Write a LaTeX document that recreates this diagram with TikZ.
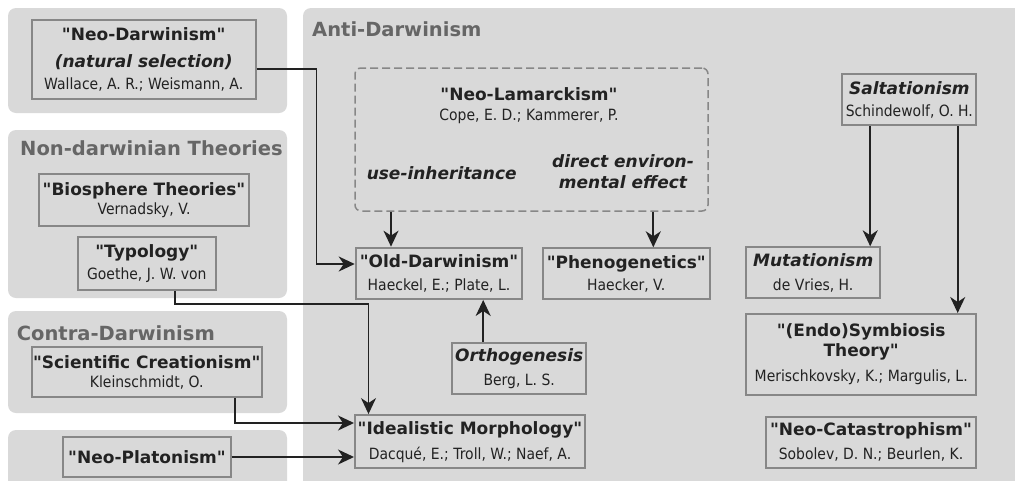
\documentclass[tikz,border=0pt]{standalone}
\usepackage{fontspec}
\setmainfont{DejaVu Sans}[Ligatures=TeXOff]
\newfontfamily\condfont{DejaVu Sans}[FakeStretch=0.9, Ligatures=TeXOff]
\usetikzlibrary{arrows.meta,calc}
\definecolor{panelgray}{HTML}{D9D9D9}
\definecolor{boxline}{HTML}{878787}
\definecolor{ink}{HTML}{222222}
\definecolor{titlegray}{HTML}{666666}
\newcommand{\hd}[1]{{\normalfont\fontsize{17}{20}\selectfont\bfseries #1}}
\newcommand{\hi}[1]{{\normalfont\fontsize{17}{20}\selectfont\bfseries\itshape #1}}
\begin{document}
\begin{tikzpicture}[x=1pt,y=-1pt,
  panel/.style={fill=panelgray, rounded corners=8pt},
  grouptitle/.style={font=\fontsize{19.5}{22}\selectfont\bfseries, text=titlegray, inner sep=0pt, anchor=west},
  tbox/.style={draw=boxline, line width=2pt, fill=panelgray, inner sep=0pt, align=center, text=ink, font=\condfont\fontsize{15.5}{22}\selectfont},
  freetext/.style={inner sep=0pt, align=center, text=ink, font=\condfont\fontsize{15.5}{22}\selectfont},
  dashbox/.style={draw=boxline, line width=1.5pt, dash pattern=on 8pt off 4pt, rounded corners=6pt, inner sep=0pt},
  conn/.style={draw=ink, line width=1.8pt, -{Stealth[length=16pt,width=15pt,inset=5pt]}},
]
\useasboundingbox (0,0) rectangle (1015,480);
\clip (0,0) rectangle (1015,480);
% panels
\fill[panel] (8,8) rectangle (287,113);
\fill[panel] (8,130) rectangle (287,298);
\fill[panel] (8,311) rectangle (287,413);
\fill[panel] (8,430) rectangle (287,500);
\fill[panel] (303,8) rectangle (1040,500);
% titles
\node[grouptitle] (tad) at (312,29.7) {Anti-Darwinism};
\node[grouptitle] (tnd) at (20,148) {Non-darwinian Theories};
\node[grouptitle] (tcd) at (16.7,333.3) {Contra-Darwinism};
% left boxes
\node[tbox, minimum width=224pt, minimum height=79pt] (nd) at (143.7,59.7)
  {\hd{"Neo-Darwinism"}\\[5pt]\hi{(natural selection)}\\Wallace, A. R.; Weismann, A.};
\node[tbox, minimum width=209.4pt, minimum height=52pt] (bt) at (144,200)
  {\hd{"Biosphere Theories"}\\[-3pt]Vernadsky, V.};
\node[tbox, minimum width=138.3pt, minimum height=52.7pt] (ty) at (146.8,263.7)
  {\hd{"Typology"}\\Goethe, J. W. von};
\node[tbox, minimum width=230pt, minimum height=50.6pt] (sc) at (146.7,372)
  {\hd{"Scientific Creationism"}\\[-3pt]Kleinschmidt, O.};
\node[tbox, minimum width=167.4pt, minimum height=39.4pt] (np) at (147,457)
  {\hd{"Neo-Platonism"}};
% Neo-Lamarckism group
\node[dashbox, minimum width=353pt, minimum height=143pt] (dl) at (531.5,139.5) {};
\node[freetext] (nlt) at (529,106) {\hd{"Neo-Lamarckism"}\\[-2pt]Cope, E. D.; Kammerer, P.};
\node[freetext] (use) at (441.7,172.7) {\hi{use-inheritance}};
\node[freetext] (dee) at (623,172) {\hi{direct environ-}\\[-1pt]\hi{mental effect}};
% middle boxes
\node[tbox, minimum width=166.6pt, minimum height=51.3pt] (od) at (439,273.3)
  {\hd{"Old-Darwinism"}\\[1pt]Haeckel, E.; Plate, L.};
\node[tbox, minimum width=167.3pt, minimum height=51pt] (pg) at (626.3,273.8)
  {\hd{"Phenogenetics"}\\Haecker, V.};
\node[tbox, minimum width=133.7pt, minimum height=51.3pt] (or) at (519.2,368.3)
  {\hi{Orthogenesis}\\[2pt]Berg, L. S.};
\node[tbox, minimum width=230pt, minimum height=53.3pt] (id) at (470,441.7)
  {\hd{"Idealistic Morphology"}\\[3pt]Dacqué, E.; Troll, W.; Naef, A.};
% right boxes
\node[tbox, minimum width=134pt, minimum height=51.6pt] (sa) at (909.3,99.5)
  {\hi{Saltationism}\\Schindewolf, O. H.};
\node[tbox, minimum width=134.3pt, minimum height=51pt] (mu) at (813.2,272.8)
  {\hi{Mutationism}\\[2pt]de Vries, H.};
\node[tbox, minimum width=230.3pt, minimum height=81pt] (en) at (861.2,354.5)
  {\hd{"(Endo)Symbiosis}\\[-2pt]\hd{Theory"}\\[3pt]Merischkovsky, K.; Margulis, L.};
\node[tbox, minimum width=210.6pt, minimum height=51pt] (nc) at (871,442.2)
  {\hd{"Neo-Catastrophism"}\\[2pt]Sobolev, D. N.; Beurlen, K.};
% connector anchors
\coordinate (odin) at ($(od.north)+(-48,0)$);
\coordinate (pgin) at ($(pg.north)+(27,0)$);
\coordinate (orout) at ($(or.north)+(-36,0)$);
\coordinate (muin) at ($(mu.north)+(57,0)$);
\coordinate (enin) at ($(en.north)+(96.5,0)$);
% connectors
\draw[conn] ($(nd.east)+(0,9)$) -| (316.5,264) -- ($(od.west)+(0,-9.3)$);
\draw[conn] ($(ty.south)+(28,0)$) |- (368.5,304) -- ($(id.north)+(-101.5,0)$);
\draw[conn] ($(sc.south)+(88.3,0)$) |- ($(id.west)+(0,-18.7)$);
\draw[conn] (np.east) -- (np.east -| id.west);
\draw[conn] (dl.south -| odin) -- (odin);
\draw[conn] (dl.south -| pgin) -- (pgin);
\draw[conn] (orout) -- (orout |- od.south);
\draw[conn] (sa.south -| muin) -- (muin);
\draw[conn] (sa.south -| enin) -- (enin);
\end{tikzpicture}
\end{document}
